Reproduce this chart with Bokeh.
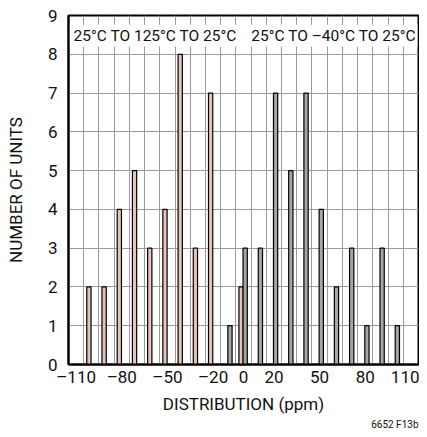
from bokeh.plotting import figure
from bokeh.models import ColumnDataSource, FixedTicker, Label, Range1d, Title
from bokeh.transform import dodge
from bokeh.embed import file_html
from bokeh.resources import INLINE

# ---- data ----
hot_bins = [-100, -90, -80, -70, -60, -50, -40, -30, -20, -10, 0]
hot_units = [2, 2, 4, 5, 3, 4, 8, 3, 7, 0, 2]          # 25°C -> 125°C -> 25°C
cold_bins = [-10, 0, 10, 20, 30, 40, 50, 60, 70, 80, 90, 100]
cold_units = [1, 3, 3, 7, 5, 7, 4, 2, 3, 1, 3, 1]       # 25°C -> -40°C -> 25°C
x_ticks = [-110, -80, -50, -20, 0, 20, 50, 80, 110]
x_tick_labels = ["–110", "–80", "–50", "–20", "0", "20", "50", "80", "110"]
x_grid = [-105, -95, -85, -75, -65, -55, -45, -35, -25, -15, -5,
          5, 15, 25, 35, 45, 55, 65, 75, 85, 95, 105]
y_ticks = [0, 1, 2, 3, 4, 5, 6, 7, 8, 9]

FONT = "Roboto"
INK = "#111111"

p = figure(width=419, height=429, output_backend="svg", toolbar_location=None,
           x_range=Range1d(-115, 115), y_range=Range1d(0, 9),
           min_border_left=68, min_border_right=1, min_border_top=15,
           min_border_bottom=62, background_fill_color="white",
           border_fill_color="white")

# grid
p.xgrid.ticker = FixedTicker(ticks=x_grid)
p.ygrid.ticker = FixedTicker(ticks=y_ticks[1:-1])
for g in (p.xgrid, p.ygrid):
    g.grid_line_color = "#9a9a9a"
    g.grid_line_width = 1

# white band behind the headings
p.quad(left=-114.3, right=114.3, bottom=8.2, top=8.76,
       fill_color="white", line_color=None)

hot = ColumnDataSource(dict(x=hot_bins, top=hot_units))
cold = ColumnDataSource(dict(x=cold_bins, top=cold_units))
p.vbar(x=dodge("x", -1.6), top="top", bottom=0, width=2.8, source=hot,
       fill_color="#e6c3bb", line_color="black", line_width=1.2)
p.vbar(x=dodge("x", 1.1), top="top", bottom=0, width=2.8, source=cold,
       fill_color="#a6a6a6", line_color="black", line_width=1.2)

# axes
p.xaxis.ticker = FixedTicker(ticks=x_ticks)
p.xaxis.major_label_overrides = {t: l for t, l in zip(x_ticks, x_tick_labels)}
p.yaxis.ticker = FixedTicker(ticks=y_ticks)
p.xaxis.axis_label = "DISTRIBUTION (ppm)"
p.yaxis.axis_label = "NUMBER OF UNITS"
for ax in (p.xaxis, p.yaxis):
    ax.axis_line_color = "black"
    ax.axis_line_width = 2
    ax.major_tick_line_color = None
    ax.minor_tick_line_color = None
    ax.major_tick_out = 0
    ax.major_tick_in = 0
    ax.minor_tick_out = 0
    ax.minor_tick_in = 0
    ax.major_label_text_font = FONT
    ax.major_label_text_font_size = "17px"
    ax.major_label_text_color = INK
    ax.axis_label_text_font = FONT
    ax.axis_label_text_font_size = "17px"
    ax.axis_label_text_font_style = "normal"
    ax.axis_label_text_color = INK
p.xaxis.major_label_standoff = 2
p.xaxis.axis_label_standoff = 4
p.yaxis.major_label_standoff = 11
p.yaxis.axis_label_standoff = 19

p.outline_line_color = "black"
p.outline_line_width = 2

# headings
p.add_layout(Label(x=-58, y=8.48, text="25°C TO 125°C TO 25°C",
                   text_align="center", text_baseline="middle",
                   text_font=FONT, text_font_size="15.5px", text_color=INK))
p.add_layout(Label(x=59.3, y=8.48, text="25°C TO –40°C TO 25°C",
                   text_align="center", text_baseline="middle",
                   text_font=FONT, text_font_size="15.5px", text_color=INK))

# figure code, under the x axis label, right-aligned
p.add_layout(Title(text="6652 F13b", align="right", text_font=FONT,
                   text_font_size="10px", text_font_style="normal",
                   text_line_height=0.7, text_color=INK, standoff=0), "below")

open("out.html", "w").write(file_html(p, INLINE))
